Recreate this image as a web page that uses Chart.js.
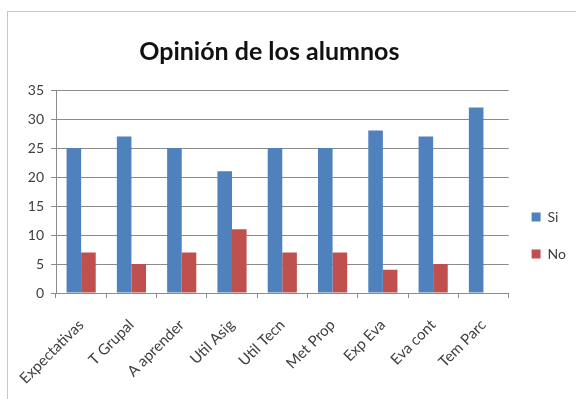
<!DOCTYPE html>
<html>
<head>
<meta charset="utf-8">
<script src="https://cdn.jsdelivr.net/npm/chart.js@4"></script>
<style>
  html, body { margin: 0; padding: 0; background: #fff; }
  #wrap { position: relative; width: 576px; height: 399px; overflow: hidden; }
  #frame { position: absolute; left: 7px; top: 11px; width: 620px; height: 420px; border: 1px solid #c6c6c6; }
  #chart { position: absolute; left: 0; top: 0; }
</style>
</head>
<body>
<div id="wrap">
  <div id="frame"></div>
  <canvas id="chart" width="576" height="399"></canvas>
</div>
<script>
const labels = ["Expectativas", "T Grupal", "A aprender", "Util Asig", "Util Tecn", "Met Prop", "Exp Eva", "Eva cont", "Tem Parc"];
const si = [25, 27, 25, 21, 25, 25, 28, 27, 32];
const no = [7, 5, 7, 11, 7, 7, 4, 5, 0];
const yTicks = [0, 5, 10, 15, 20, 25, 30, 35];

const ctx = document.querySelector("#chart").getContext("2d");
const fontFamily = "Lato, 'Open Sans', sans-serif";
const gridColor = "#8a8a8a";

// title sits a bit left of the plot centre in the original
const shiftTitle = {
  id: "shiftTitle",
  afterLayout: (chart) => {
    chart.titleBlock.left -= 13;
    chart.titleBlock.right -= 13;
  },
};

const data = {
  labels: labels,
  datasets: [
    {
      label: "Si",
      data: si,
      backgroundColor: "#4f81bd",
      borderWidth: 0,
    },
    {
      label: "No",
      data: no,
      backgroundColor: "#c0504d",
      borderWidth: 0,
    },
  ],
};

const config = {
  type: "bar",
  data: data,
  plugins: [shiftTitle],
  options: {
    responsive: false,
    animation: false,
    categoryPercentage: 0.58,
    barPercentage: 1,
    layout: {
      padding: { left: 8, top: 12, right: 0, bottom: 4 },
    },
    plugins: {
      title: {
        display: true,
        text: "Opinión de los alumnos",
        fullSize: false,
        color: "#111",
        font: { family: fontFamily, size: 25, weight: "bold", lineHeight: 1.2 },
        padding: { top: 25, bottom: 23 },
      },
      legend: {
        position: "right",
        fullSize: false,
        title: {
          display: true,
          text: "",
          font: { size: 12, lineHeight: 1 },
          padding: { top: 76, bottom: 0 },
        },
        labels: {
          boxWidth: 9,
          boxHeight: 9,
          padding: 23,
          color: "#404040",
          font: { family: fontFamily, size: 14, lineHeight: 0.786 },
        },
      },
      tooltip: { enabled: false },
    },
    scales: {
      y: {
        min: 0,
        max: 35,
        afterFit: (scale) => {
          scale.width = 48;
        },
        afterBuildTicks: (scale) => {
          scale.ticks = yTicks.map((v) => ({ value: v }));
        },
        ticks: {
          padding: 7,
          color: "#404040",
          font: { family: fontFamily, size: 14 },
        },
        grid: {
          color: gridColor,
          tickLength: 5,
        },
        border: { color: gridColor },
      },
      x: {
        afterFit: (scale) => {
          scale.height = 102;
        },
        ticks: {
          minRotation: 45,
          maxRotation: 45,
          autoSkip: false,
          padding: 18,
          color: "#404040",
          font: { family: fontFamily, size: 15 },
        },
        grid: {
          offset: true,
          drawOnChartArea: false,
          color: gridColor,
          tickLength: 5,
        },
        border: { color: gridColor },
      },
    },
  },
};

const chart = new Chart(ctx, config);
</script>
</body>
</html>
